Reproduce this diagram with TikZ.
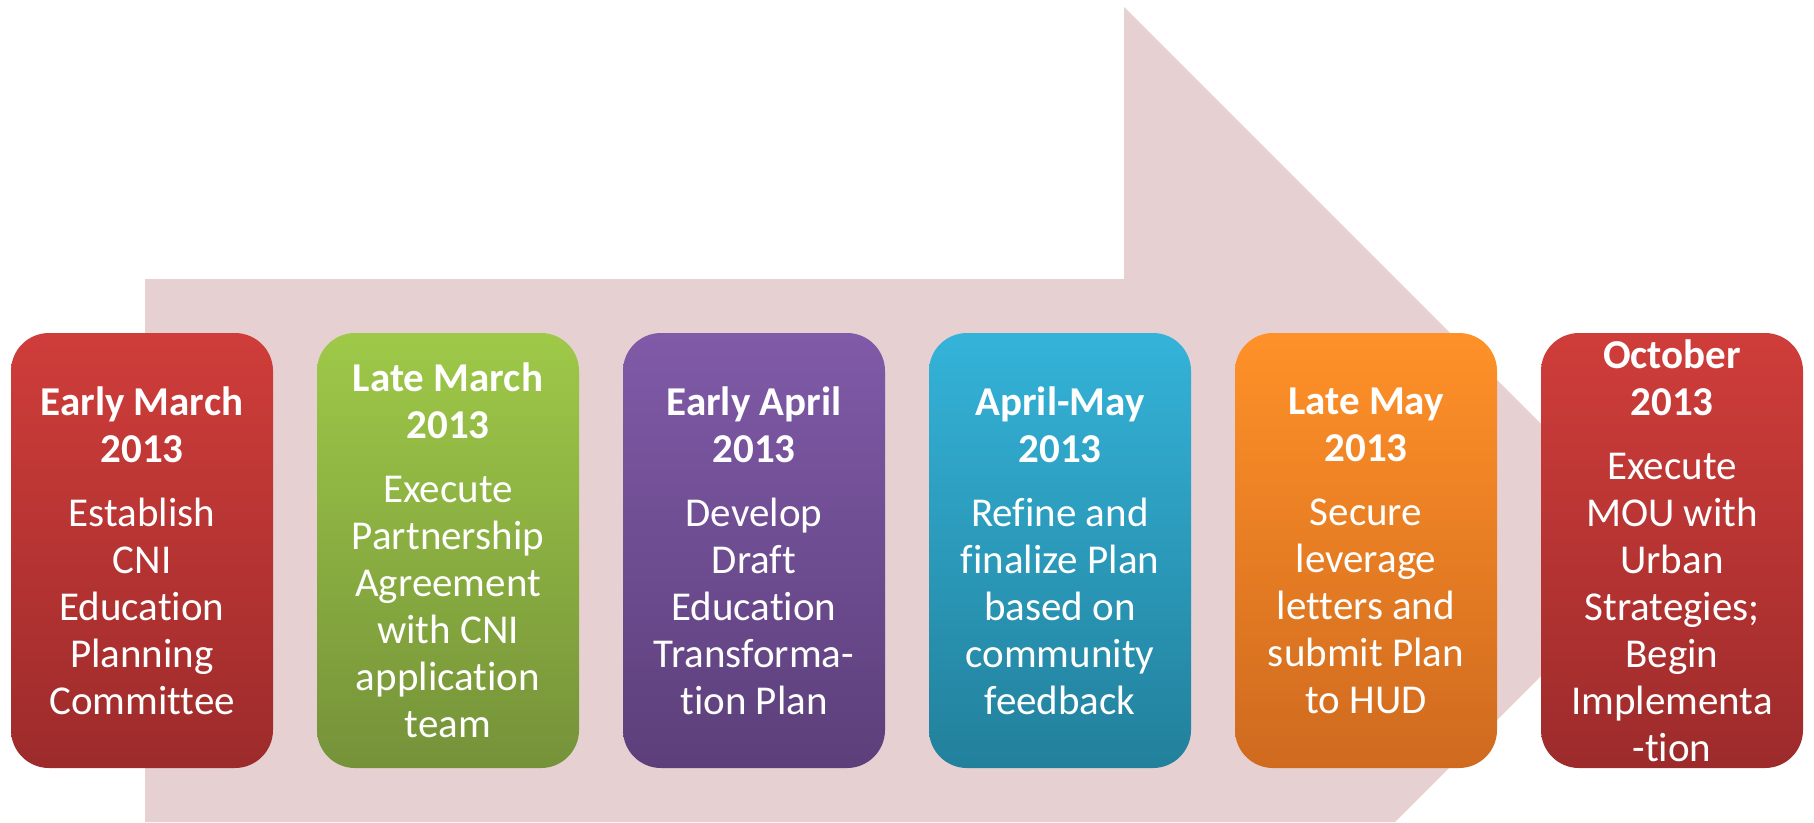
\documentclass[tikz,border=0pt]{standalone}
\usepackage{fontspec}
\setmainfont{Carlito}[Ligatures={NoCommon,NoDiscretionary,NoRare}]
\begin{document}
\begin{tikzpicture}[x=1pt,y=-1pt,
  stagebox/.style={rounded corners=38pt, minimum width=262pt, minimum height=435pt, inner sep=0pt, draw=none},
  stagetext/.style={align=center, text=white, font=\fontsize{41}{47}\selectfont, inner sep=0pt},
  redbox/.style={stagebox, top color=rtop, bottom color=rbot},
  greenbox/.style={stagebox, top color=gtop, bottom color=gbot},
  purplebox/.style={stagebox, top color=ptop, bottom color=pbot},
  tealbox/.style={stagebox, top color=ttop, bottom color=tbot},
  orangebox/.style={stagebox, top color=otop, bottom color=obot}]
\definecolor{arrowfill}{RGB}{230,208,209}
\definecolor{rtop}{RGB}{207,61,58}
\definecolor{rbot}{RGB}{157,43,43}
\definecolor{gtop}{RGB}{158,201,72}
\definecolor{gbot}{RGB}{117,146,57}
\definecolor{ptop}{RGB}{128,90,168}
\definecolor{pbot}{RGB}{92,63,122}
\definecolor{ttop}{RGB}{52,179,217}
\definecolor{tbot}{RGB}{34,128,155}
\definecolor{otop}{RGB}{255,145,40}
\definecolor{obot}{RGB}{207,106,31}
\useasboundingbox (0,0) rectangle (1814,822);
% big background arrow
\fill[arrowfill] (145,279) -- (1124,279) -- (1124,7) -- (1667,550) -- (1395,822) -- (145,822) -- cycle;
% boxes
\node[redbox]    (b1) at (142,550.5) {};
\node[greenbox]  (b2) at (448,550.5) {};
\node[purplebox] (b3) at (754,550.5) {};
\node[tealbox]   (b4) at (1060,550.5) {};
\node[orangebox] (b5) at (1366,550.5) {};
\node[redbox]    (b6) at (1672,550.5) {};
% texts
\node[stagetext] (t1) at (b1.center) {\textbf{Early March}\\\textbf{2013}\\[17pt]Establish\\CNI\\Education\\Planning\\Committee};
\node[stagetext] (t2) at (b2.center) {\textbf{Late March}\\\textbf{2013}\\[17pt]Execute\\Partnership\\Agreement\\with CNI\\application\\team};
\node[stagetext] (t3) at (b3.center) {\textbf{Early April}\\\textbf{2013}\\[17pt]Develop\\Draft\\Education\\Transforma-\\tion Plan};
\node[stagetext] (t4) at (b4.center) {\textbf{April-May}\\\textbf{2013}\\[17pt]Refine and\\finalize Plan\\based on\\community\\feedback};
\node[stagetext] (t5) at (b5.center) {\textbf{Late May}\\\textbf{2013}\\[17pt]Secure\\leverage\\letters and\\submit Plan\\to HUD};
\node[stagetext] (t6) at (b6.center) {\textbf{October}\\\textbf{2013}\\[17pt]Execute\\MOU with\\Urban\\Strategies;\\Begin\\Implementa\\-tion};
\end{tikzpicture}
\end{document}
